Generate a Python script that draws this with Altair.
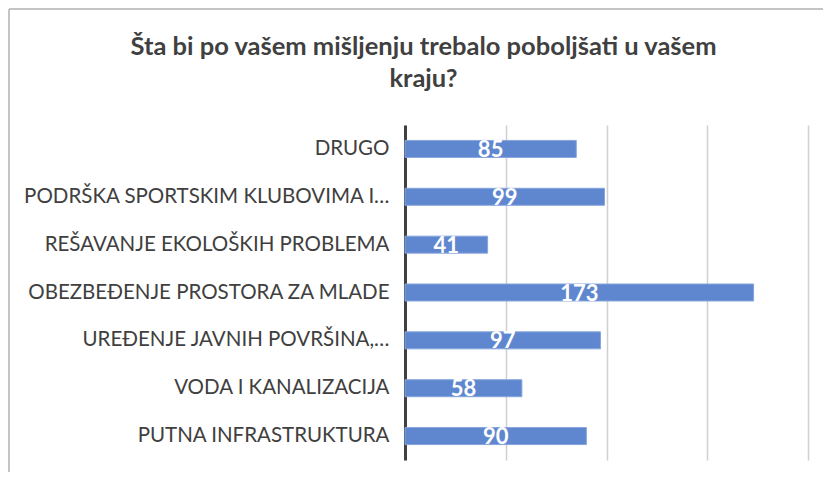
import altair as alt
import pandas as pd

categories = [
    "DRUGO",
    "PODRŠKA SPORTSKIM KLUBOVIMA I…",
    "REŠAVANJE EKOLOŠKIH PROBLEMA",
    "OBEZBEĐENJE PROSTORA ZA MLADE",
    "UREĐENJE JAVNIH POVRŠINA,…",
    "VODA I KANALIZACIJA",
    "PUTNA INFRASTRUKTURA",
]
values = [85, 99, 41, 173, 97, 58, 90]
x_ticks = [0, 50, 100, 150, 200]
title_lines = ["Šta bi po vašem mišljenju trebalo poboljšati u vašem", "kraju?"]

df = pd.DataFrame({"cat": categories, "val": values})
df["half"] = df["val"] / 2

FONT = "Lato"
TXT = "#404040"

y_enc = alt.Y(
    "cat:N",
    sort=categories,
    title=None,
    scale=alt.Scale(paddingInner=0.645, paddingOuter=0.3225),
    axis=alt.Axis(
        labelFont=FONT, labelFontSize=20.5, labelFontWeight=400, labelColor="#404040",
        labelPadding=16, labelLimit=400, ticks=False, domainColor="#404040",
        domainWidth=3, grid=False,
    ),
)
x_scale = alt.Scale(domain=[0, 200], nice=False)
x_axis = alt.Axis(values=x_ticks, labels=False, ticks=False, domain=False,
                  grid=True, gridColor="#D0D0D0", gridWidth=1.5, title=None)

base = alt.Chart(df)
bars = base.mark_bar(color="#5F87CF", stroke="#86A5DC", strokeWidth=1).encode(
    x=alt.X("val:Q", scale=x_scale, axis=x_axis),
    y=y_enc,
)
labels = base.mark_text(font=FONT, fontSize=22, fontWeight="bold", color="white",
                        baseline="middle", dy=1).encode(
    x=alt.X("half:Q", scale=x_scale),
    y=alt.Y("cat:N", sort=categories),
    text=alt.Text("val:Q"),
)
frame_data = pd.DataFrame({"a": [0]})
frame_top = alt.Chart(frame_data).mark_rule(stroke="#C4C4C4", strokeWidth=2).encode(
    x=alt.value(-396), x2=alt.value(430), y=alt.value(-116)
)
frame_left = alt.Chart(frame_data).mark_rule(stroke="#C4C4C4", strokeWidth=2).encode(
    x=alt.value(-396), y=alt.value(-116), y2=alt.value(400)
)

chart = alt.layer(frame_top, frame_left, bars, labels).properties(
    width=403,
    height=335,
    title=alt.TitleParams(
        text=title_lines, font=FONT, fontSize=25.5, fontWeight="bold", color=TXT,
        anchor="middle", frame="group", dx=-183, lineHeight=32, offset=0, dy=84,
    ),
    autosize=alt.AutoSizeParams(type="none"),
    padding={"left": 397, "top": 117, "right": 15, "bottom": 12},
    background="white",
).configure_view(stroke=None)

chart.save("out.html", embed_options={"renderer": "svg", "actions": False})
